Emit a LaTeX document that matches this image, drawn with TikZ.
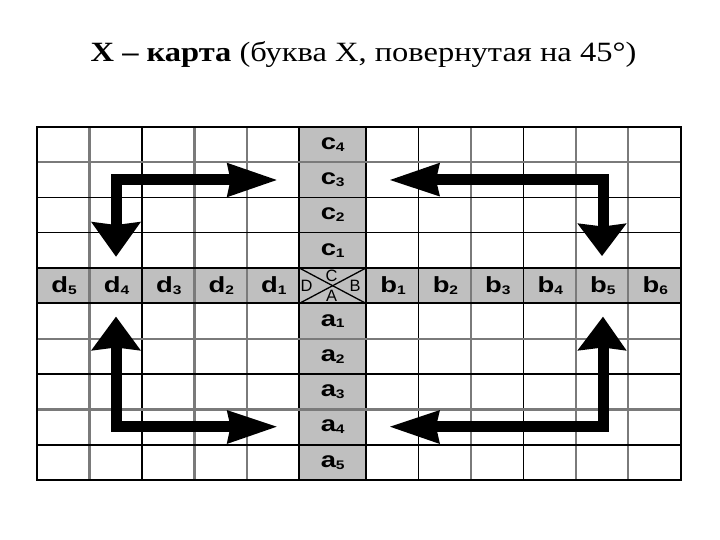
\documentclass[tikz,border=0pt]{standalone}
\usepackage{fontspec}
\usepackage{graphicx}
\setmainfont{Liberation Serif}
\newfontfamily\labfont{Liberation Sans}
\tikzset{
  gline/.style={draw=black!52, line width=2.2bp},
  bline/.style={draw=black, line width=1.6bp},
  lab/.style={font=\labfont\bfseries\fontsize{22}{22}\selectfont, inner sep=0pt, anchor=center},
  dirlab/.style={font=\labfont\fontsize{16.5}{16.5}\selectfont, inner sep=0pt},
  shaft/.style={draw=black, line width=11bp, line join=miter},
  headfill/.style={fill=black},
}
\newcommand{\lbl}[2]{\scalebox{1.25}[1]{#1\raisebox{-2pt}{\fontsize{12.5}{12.5}\selectfont #2}}}
\begin{document}
\begin{tikzpicture}[x=1bp,y=-1bp]
\useasboundingbox (0,0) rectangle (720,540);
% title
\node[anchor=base, inner sep=0pt, font=\fontsize{28}{28}\selectfont] (title) at (363.5,61.7)
  {\scalebox{1.165}[1]{\textbf{X – карта} (буква X, повернутая на 45°)}};
% gray fills
\fill[black!25] (299.3,126.7) rectangle (366,480);
\fill[black!25] (37,268) rectangle (680.7,303.4);
% vertical grid lines
\foreach \x/\s in {89.5/gline,142/bline,194.5/gline,246.9/gline,
                   418.5/bline,470.9/gline,523.4/bline,575.8/gline,628.3/gline}
  \draw[\s] (\x,126.7) -- (\x,480);
\draw[bline, line width=2bp] (299.3,126.7) -- (299.3,480);
\draw[bline, line width=2bp] (366,126.7) -- (366,480);
% horizontal grid lines
\foreach \y/\s in {162/gline,197.4/bline,232.7/bline,338.7/gline,374/bline,409.4/gline,444.7/bline}
  \draw[\s] (37,\y) -- (680.7,\y);
\draw[bline, line width=2bp] (37,268) -- (680.7,268);
\draw[bline, line width=2bp] (37,303.4) -- (680.7,303.4);
% border
\draw[black, line width=2.2bp] (37,126.7) rectangle (680.7,480);
% centre cell cross
\draw[black, line width=1.3bp] (299.3,268) -- (366,303.4);
\draw[black, line width=1.3bp] (299.3,303.4) -- (366,268);
\node[dirlab] (dC) at (331.5,276) {C};
\node[dirlab] (dB) at (355,286) {B};
\node[dirlab] (dA) at (331.5,296) {A};
\node[dirlab] (dD) at (306.5,286) {D};
% column labels (c and a)
\foreach \i in {1,...,4}
  \node[lab] (c\i) at (332.7,{126.7+35.33*(4-\i)+17.7}) {\lbl{c}{\i}};
\foreach \i in {1,...,5}
  \node[lab] (a\i) at (332.7,{303.4+35.33*(\i-1)+17.7}) {\lbl{a}{\i}};
% row labels (d and b)
\foreach \i in {1,...,5}
  \node[lab] (d\i) at ({37+52.46*(5-\i)+27},286) {\lbl{d}{\i}};
\foreach \i in {1,...,6}
  \node[lab] (b\i) at ({366+52.45*(\i-1)+27},286) {\lbl{b}{\i}};
% arrows
\coordinate (tlc) at (116,180);
\coordinate (trc) at (603,180);
\coordinate (blc) at (116,426.7);
\coordinate (brc) at (603,426.7);
% top-left
\draw[shaft] (231,180) -- (tlc) -- (116,226);
\fill[headfill] (226.7,162.7) -- (276.7,180) -- (226.7,197.3) -- (230.5,180) -- cycle;
\fill[headfill] (91,221.7) -- (116,256.7) -- (141,221.7) -- (116,225) -- cycle;
% top-right
\draw[shaft] (436,180) -- (trc) -- (603,227);
\fill[headfill] (440,162.7) -- (390,180) -- (440,196.5) -- (436,180) -- cycle;
\fill[headfill] (577.3,223.3) -- (602,256) -- (626.7,223.3) -- (603,226.5) -- cycle;
% bottom-left
\draw[shaft] (231,426.7) -- (blc) -- (116,347);
\fill[headfill] (226.7,410) -- (276.7,426.7) -- (226.7,444) -- (230.5,426.7) -- cycle;
\fill[headfill] (91,350.7) -- (116,316.7) -- (141,350.7) -- (116,347.5) -- cycle;
% bottom-right
\draw[shaft] (436,426.7) -- (brc) -- (603,347);
\fill[headfill] (440,410) -- (390,426.7) -- (440,444) -- (436,426.7) -- cycle;
\fill[headfill] (577.3,350.7) -- (603,316.7) -- (626.7,350.7) -- (603,347.5) -- cycle;
\end{tikzpicture}
\end{document}
